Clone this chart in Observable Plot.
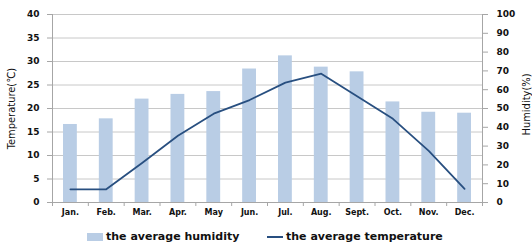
<!DOCTYPE html>
<html><head><meta charset="utf-8">
<script src="https://cdn.jsdelivr.net/npm/d3@7"></script>
<script src="https://cdn.jsdelivr.net/npm/@observablehq/plot@0.6"></script>
<style>
body{margin:0;background:#fff;}
#wrap{position:relative;width:532px;height:243px;overflow:hidden;background:#fff;}
#wrap svg{display:block;}
#legend{position:absolute;left:0;top:229px;height:16px;width:532px;font-family:"DejaVu Sans",sans-serif;font-weight:bold;font-size:11px;color:#111;}
.item{position:absolute;top:0;height:16px;line-height:16px;white-space:nowrap;}
.sw{position:absolute;}
</style></head><body><div id="wrap"></div>
<script>
const months = ["Jan.","Feb.","Mar.","Apr.","May","Jun.","Jul.","Aug.","Sept.","Oct.","Nov.","Dec."];
const humidity = [41.5,44.5,55,57.5,59,71,78,72,69.5,53.5,48,47.5];
const temperature = [2.8,2.8,8.4,14.2,18.9,21.8,25.5,27.4,22.6,17.8,11,2.9];
const tempTicks = [0,5,10,15,20,25,30,35,40];
const humidityTicks = [0,10,20,30,40,50,60,70,80,90,100];
const seriesNames = ["the average humidity","the average temperature"];
const axisTitles = ["Temperature(℃)","Humidity(%)"];

const k = 40/100;
const data = months.map((m,i)=>({i, month:m, humidity:humidity[i], temperature:temperature[i]}));
const barColor = "#b9cde5", lineColor = "#284f80", axisColor = "#a6a6a6";
const narrow = "'Liberation Sans Narrow','DejaVu Sans Condensed',sans-serif";

const plot = Plot.plot({
  width:532, height:222,
  marginLeft:52, marginRight:50, marginTop:14, marginBottom:20,
  x:{domain:[0,12], label:null},
  y:{domain:[0,40], label:null},
  style:{fontFamily:"DejaVu Sans", fontWeight:"bold", color:"#111", background:"#fff"},
  marks:[
    Plot.gridY(tempTicks,{stroke:"#c8c8c8", strokeOpacity:1}),
    Plot.rectY(data,{x1:"i", x2:d=>d.i+1, y1:0, y2:d=>d.humidity*k, fill:barColor, insetLeft:11, insetRight:11}),
    Plot.ruleX([0,12],{stroke:axisColor}),
    Plot.ruleY([0],{stroke:axisColor}),
    Plot.axisY(tempTicks,{anchor:"left", tickSize:5, tickPadding:8, fontSize:9, label:null, stroke:axisColor, fill:"#111"}),
    Plot.axisY(humidityTicks.map(h=>h*k),{anchor:"right", tickSize:5, tickPadding:9, fontSize:9, label:null, tickFormat:v=>Math.round(v/k), stroke:axisColor, fill:"#111"}),
    Plot.axisX(d3.range(13),{anchor:"bottom", tickSize:4, tickFormat:()=>"", label:null, stroke:axisColor}),
    Plot.axisX(months.map((m,i)=>i+0.5),{anchor:"bottom", tickSize:0, tickPadding:7, fontSize:8, label:null, tickFormat:v=>months[Math.floor(v)], fill:"#111"}),
    Plot.line(data,{x:d=>d.i+0.5, y:"temperature", stroke:lineColor, strokeWidth:1.8}),
    Plot.text([axisTitles[0]],{text:d=>d, frameAnchor:"left", textAnchor:"middle", dx:-41, rotate:-90, fontFamily:narrow, fontSize:11, fontWeight:"normal", fill:"#111"}),
    Plot.text([axisTitles[1]],{text:d=>d, frameAnchor:"right", textAnchor:"middle", dx:44, dy:-4, rotate:-90, fontFamily:narrow, fontSize:11, fontWeight:"normal", fill:"#111"})
  ]
});
d3.select(plot).selectAll("text").filter(function(){ return axisTitles.includes(this.textContent); }).style("font-stretch","condensed");
const wrap = document.getElementById("wrap");
wrap.appendChild(plot);
const legend = document.createElement("div");
legend.id = "legend";
legend.innerHTML = `
<div class="sw" style="left:87px;top:4px;width:16px;height:8px;background:${barColor}"></div>
<div class="item" style="left:106px">${seriesNames[0]}</div>
<div class="sw" style="left:267px;top:7px;width:16px;height:2px;background:${lineColor}"></div>
<div class="item" style="left:286px">${seriesNames[1]}</div>`;
wrap.appendChild(legend);
</script>
</body></html>
